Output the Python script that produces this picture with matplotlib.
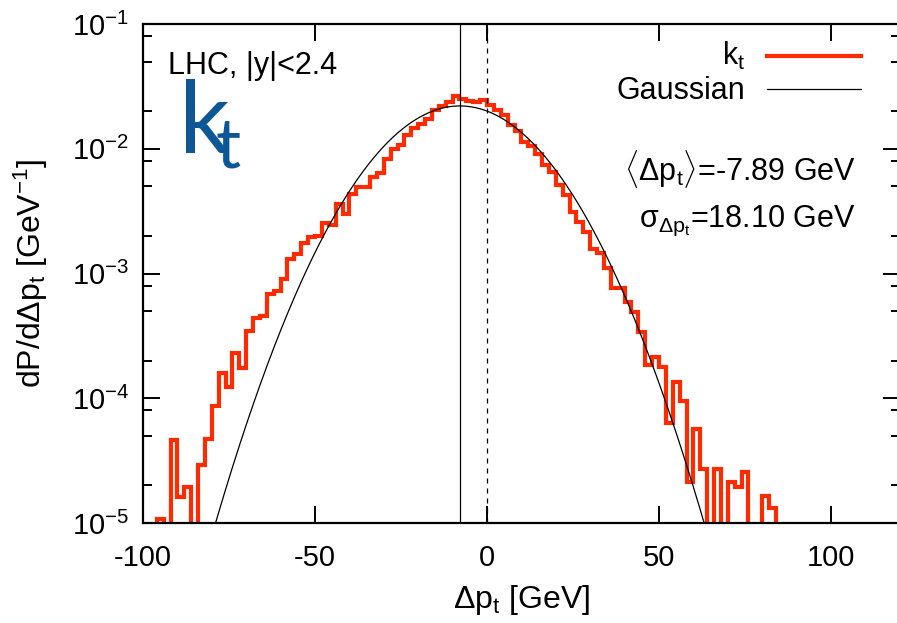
import matplotlib
matplotlib.use("Agg")
import matplotlib.pyplot as plt
import numpy as np

plt.rcParams['font.family'] = ['Liberation Sans', 'DejaVu Sans']
plt.rcParams['mathtext.fontset'] = 'custom'
plt.rcParams['mathtext.rm'] = 'Liberation Sans'
plt.rcParams['mathtext.it'] = 'Liberation Sans:italic'
plt.rcParams['mathtext.bf'] = 'Liberation Sans:bold'
plt.rcParams['axes.unicode_minus'] = False

# bin edges of the Delta p_t distribution (2 GeV bins)
bin_lo = -98
bin_hi = 86
bin_width = 2

# dP/dDelta p_t per bin, from -98 GeV upwards
kt_values = [
    0.0, 1.08e-5, 0.0, 4.6e-5, 1.63e-5, 1.94e-5, 0.0, 2.92e-5,
    4.72e-5, 8.7e-5, 1.6e-4, 1.24e-4, 2.29e-4, 1.74e-4, 3.48e-4, 4.36e-4,
    4.58e-4, 6.82e-4, 7.26e-4, 9.0e-4, 1.3e-3, 1.44e-3, 1.74e-3, 1.96e-3,
    1.98e-3, 2.54e-3, 2.47e-3, 3.6e-3, 3.02e-3, 4.36e-3, 4.9e-3, 4.9e-3,
    5.9e-3, 6.4e-3, 8.3e-3, 1.0e-2, 1.07e-2, 1.29e-2, 1.46e-2, 1.58e-2,
    1.74e-2, 2.06e-2, 2.19e-2, 2.36e-2, 2.67e-2, 2.51e-2, 2.43e-2, 2.39e-2,
    2.46e-2, 2.24e-2, 2.04e-2, 1.85e-2, 1.56e-2, 1.40e-2, 1.13e-2, 1.06e-2,
    9.1e-3, 7.35e-3, 6.5e-3, 5.08e-3, 4.23e-3, 3.11e-3, 2.59e-3, 2.15e-3,
    1.56e-3, 1.47e-3, 1.1e-3, 7.7e-4, 7.6e-4, 5.93e-4, 4.93e-4, 3.41e-4,
    1.85e-4, 2.15e-4, 1.79e-4, 6.38e-5, 1.36e-4, 9.58e-5, 2.15e-5, 5.65e-5,
    2.7e-5, 0.0, 2.7e-5, 0.0, 2.15e-5, 1.94e-5, 2.54e-5, 0.0,
    0.0, 1.65e-5, 1.32e-5, 0.0,
]

mean_dpt = -7.89
sigma_dpt = 18.10

edges = np.arange(bin_lo, bin_hi + 1, bin_width)
vals = np.clip(np.array(kt_values), 1e-9, None)

xg = np.linspace(-100, 120, 1000)
gauss = np.exp(-0.5 * ((xg - mean_dpt) / sigma_dpt) ** 2) / (np.sqrt(2 * np.pi) * sigma_dpt)

fig = plt.figure(figsize=(8.97, 6.23), dpi=100)
ax = fig.add_axes([143 / 897, 1 - 523 / 623, 756.8 / 897, 499 / 623])

ax.stairs(vals, edges, color="#ff2a00", linewidth=3.0, baseline=None, zorder=2)
ax.plot(xg, gauss, "-", color="black", linewidth=0.9, zorder=3)
ax.axvline(mean_dpt, color="black", linewidth=0.9, zorder=3)
ax.axvline(0, color="black", linewidth=0.9, linestyle=(0, (4, 4)), zorder=3)

ax.set_yscale("log")
ax.set_xlim(-100, 120)
ax.set_ylim(1e-5, 1e-1)
ax.set_xticks([-100, -50, 0, 50, 100])
ax.yaxis.set_minor_locator(matplotlib.ticker.LogLocator(base=10, subs=[2, 5, 8]))
ax.yaxis.set_minor_formatter(matplotlib.ticker.NullFormatter())

for s in ax.spines.values():
    s.set_linewidth(1.6)
ax.tick_params(which="both", direction="in", top=True, right=True, width=1.4)
ax.tick_params(which="major", length=12)
ax.tick_params(which="minor", length=6.5)
ax.tick_params(axis="x", labelsize=21, pad=15)
ax.tick_params(axis="y", labelsize=21, pad=10)

ax.set_xlabel(r"$\Delta$p$_\mathregular{t}$ [GeV]", fontsize=23, labelpad=8)
ax.set_ylabel(r"dP/d$\Delta$p$_\mathregular{t}$ [GeV$^\mathregular{-1}$]", fontsize=23, labelpad=16)

ax.text(0.033, 0.90, "LHC, |y|<2.4", transform=ax.transAxes, fontsize=22,
        ha="left", va="baseline")
ax.text(0.046, 0.7415, r"$\mathregular{k\!_t}$", transform=ax.transAxes, fontsize=72,
        color="#0e5797", family="Lato", ha="left", va="baseline")

# legend drawn gnuplot-style: label on the left, sample line on the right
ax.text(0.7955, 0.918, r"k$_\mathregular{t}$", transform=ax.transAxes, fontsize=22,
        ha="right", va="baseline")
ax.plot([0.8245, 0.9487], [0.9365, 0.9365], transform=ax.transAxes,
        color="#ff2a00", linewidth=3.0)
ax.text(0.7955, 0.849, "Gaussian", transform=ax.transAxes, fontsize=22,
        ha="right", va="baseline")
ax.plot([0.8245, 0.9487], [0.869, 0.869], transform=ax.transAxes,
        color="black", linewidth=0.9)

ax.text(0.942, 0.687, r"$\langle\Delta$p$_\mathregular{t}\rangle$=%.2f GeV" % mean_dpt,
        transform=ax.transAxes, fontsize=22, ha="right", va="baseline")
ax.text(0.942, 0.594, r"σ$_{\Delta \mathregular{p_t}}$=%.2f GeV" % sigma_dpt,
        transform=ax.transAxes, fontsize=22, ha="right", va="baseline")

fig.savefig("out.png", dpi=100)
